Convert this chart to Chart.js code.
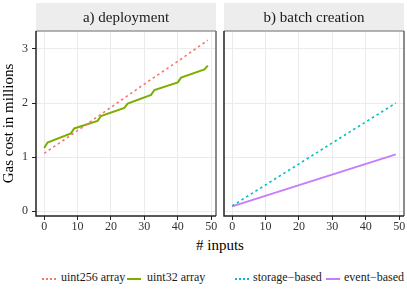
<!DOCTYPE html>
<html>
<head>
<meta charset="utf-8">
<script src="https://cdn.jsdelivr.net/npm/chart.js@4"></script>
<style>
  body { margin: 0; background: #fff; width: 407px; height: 289px; overflow: hidden; position: relative; font-family: "Liberation Serif", serif; }
  .box { position: absolute; top: 0; height: 236px; }
  #boxA { left: 0; width: 224px; }
  #boxB { left: 212px; width: 195px; }
  #xtitle { position: absolute; top: 237px; left: 0; width: 440px; text-align: center; font-size: 15px; color: #000; }
  .leg { position: absolute; top: 270px; font-size: 12px; color: #1a1a1a; white-space: nowrap; }
  .sym { position: absolute; top: 278px; width: 14px; height: 0; }
</style>
</head>
<body>
<div class="box" id="boxA"><canvas id="chartA"></canvas></div>
<div class="box" id="boxB"><canvas id="chartB"></canvas></div>
<div id="xtitle"># inputs</div>

<div class="sym" style="left:42px; border-top: 2px dotted #F8766D;"></div>
<div class="leg" style="left:61px;">uint256 array</div>
<div class="sym" style="left:127px; border-top: 2px solid #7CAE00;"></div>
<div class="leg" style="left:147px;">uint32 array</div>
<div class="sym" style="left:235px; border-top: 2px dotted #00BFC4;"></div>
<div class="leg" style="left:253px;">storage&minus;based</div>
<div class="sym" style="left:326px; border-top: 2px solid #C77CFF;"></div>
<div class="leg" style="left:344px;">event&minus;based</div>

<script>
// data (gas cost in millions vs # inputs)
const uint256_x = [0, 10, 20, 30, 40, 49];
const uint256_y = [1.07, 1.49, 1.92, 2.35, 2.77, 3.16];

const uint32_x = [0, 1, 8, 9, 16, 17, 24, 25, 32, 33, 40, 41, 48, 49];
const uint32_y = [1.17, 1.27, 1.44, 1.53, 1.67, 1.76, 1.91, 1.99, 2.15, 2.24, 2.38, 2.47, 2.62, 2.69];

const storage_x = [0, 49];
const storage_y = [0.10, 2.00];

const event_x = [0, 49];
const event_y = [0.09, 1.05];

const x_ticks = [0, 10, 20, 30, 40, 50];
const y_ticks = [0, 1, 2, 3];

const pts = (xs, ys) => xs.map((x, i) => ({x: x, y: ys[i]}));

const serif = 'Liberation Serif';

// grey strip above the panel + panel border
const stripPlugin = {
    id: 'strip',
    beforeDraw(chart, args, opts) {
        const a = chart.chartArea;
        const ctx = chart.ctx;
        ctx.save();
        ctx.fillStyle = '#EDEDED';
        ctx.fillRect(a.left, 3, a.right - a.left, a.top - 3);
        ctx.fillStyle = '#1a1a1a';
        ctx.font = '15px ' + serif;
        ctx.textAlign = 'center';
        ctx.textBaseline = 'middle';
        ctx.fillText(opts.text, (a.left + a.right) / 2, (3 + a.top) / 2 + 1);
        ctx.restore();
    },
    afterDraw(chart) {
        const a = chart.chartArea;
        const ctx = chart.ctx;
        ctx.save();
        ctx.lineWidth = 1.5;
        // top and right: grey
        ctx.strokeStyle = '#9a9a9a';
        ctx.beginPath();
        ctx.moveTo(a.left, a.top);
        ctx.lineTo(a.right, a.top);
        ctx.stroke();
        ctx.strokeStyle = '#666';
        ctx.beginPath();
        ctx.moveTo(a.right, a.top);
        ctx.lineTo(a.right, a.bottom);
        ctx.stroke();
        // axis lines: dark
        ctx.strokeStyle = '#222';
        ctx.beginPath();
        ctx.moveTo(a.left, a.top);
        ctx.lineTo(a.left, a.bottom);
        ctx.lineTo(a.right, a.bottom);
        ctx.stroke();
        ctx.restore();
    }
};

function makeScales(showY, yWidth) {
    return {
        x: {
            type: 'linear',
            min: -2.45,
            max: 51.45,
            afterBuildTicks: axis => { axis.ticks = x_ticks.map(v => ({value: v})); },
            afterFit: axis => { axis.height = 20; },
            ticks: {
                color: '#333',
                font: { family: serif, size: 12 },
                padding: 0,
                maxRotation: 0
            },
            grid: {
                color: '#EBEBEB',
                lineWidth: 1,
                tickColor: '#222',
                tickLength: 4
            },
            border: { display: false }
        },
        y: {
            type: 'linear',
            min: -0.087,
            max: 3.33,
            afterBuildTicks: axis => { axis.ticks = y_ticks.map(v => ({value: v})); },
            afterFit: axis => { axis.width = yWidth; },
            title: {
                display: showY,
                text: 'Gas cost in millions',
                color: '#000',
                font: { family: serif, size: 15 },
                padding: 0
            },
            ticks: {
                display: showY,
                color: '#333',
                font: { family: serif, size: 12 },
                padding: 4
            },
            grid: {
                color: '#EBEBEB',
                lineWidth: 1,
                tickColor: '#222',
                tickLength: 4,
                drawTicks: showY
            },
            border: { display: false }
        }
    };
}

const chartA = new Chart(document.getElementById('chartA'), {
    type: 'line',
    data: {
        datasets: [
            {
                label: 'uint256 array',
                data: pts(uint256_x, uint256_y),
                borderColor: '#F8766D',
                borderWidth: 1.6,
                borderDash: [2.5, 3],
                pointRadius: 0,
                fill: false
            },
            {
                label: 'uint32 array',
                data: pts(uint32_x, uint32_y),
                borderColor: '#7CAE00',
                borderWidth: 2,
                pointRadius: 0,
                fill: false
            }
        ]
    },
    options: {
        responsive: true,
        maintainAspectRatio: false,
        animation: false,
        layout: { padding: { top: 31, right: 8, left: 0, bottom: 0 } },
        plugins: {
            legend: { display: false },
            tooltip: { enabled: false },
            strip: { text: 'a) deployment' }
        },
        scales: makeScales(true, 36)
    },
    plugins: [stripPlugin]
});

const chartB = new Chart(document.getElementById('chartB'), {
    type: 'line',
    data: {
        datasets: [
            {
                label: 'storage-based',
                data: pts(storage_x, storage_y),
                borderColor: '#00BFC4',
                borderWidth: 1.6,
                borderDash: [2.5, 3],
                pointRadius: 0,
                fill: false
            },
            {
                label: 'event-based',
                data: pts(event_x, event_y),
                borderColor: '#C77CFF',
                borderWidth: 1.8,
                pointRadius: 0,
                fill: false
            }
        ]
    },
    options: {
        responsive: true,
        maintainAspectRatio: false,
        animation: false,
        layout: { padding: { top: 31, right: 3, left: 0, bottom: 0 } },
        plugins: {
            legend: { display: false },
            tooltip: { enabled: false },
            strip: { text: 'b) batch creation' }
        },
        scales: makeScales(false, 12)
    },
    plugins: [stripPlugin]
});
</script>
</body>
</html>
